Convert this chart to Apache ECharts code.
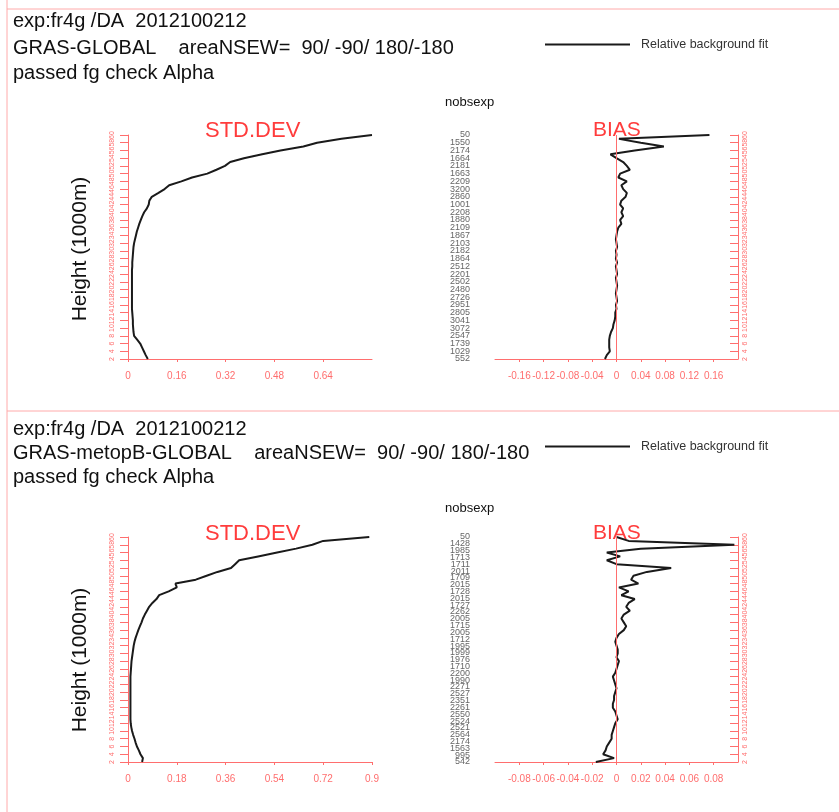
<!DOCTYPE html>
<html>
<head>
<meta charset="utf-8">
<script src="https://cdn.jsdelivr.net/npm/echarts@6/dist/echarts.min.js"></script>
<style>
html,body{margin:0;padding:0;background:#fff;}
#chart{width:839px;height:812px;}
</style>
</head>
<body>
<div id="chart"></div>
<script>
// Heights (1000 m), top to bottom
const heights = [60,59,58,57,56,55,54,53,52,51,50,49,48,47,46,45,44,43,42,41,40,39,38,37,36,35,34,33,32,31,30,29,28,27,26,25,24,23,22,21,20,19,18,17,16,15,14,13,12,11,10,9,8,7,6,5,4,3,2];

// Panel 1: GRAS-GLOBAL
const std1 = [0.80,0.70,0.62,0.575,0.50,0.44,0.38,0.335,0.318,0.29,0.26,0.21,0.175,0.135,0.12,0.10,0.078,0.070,0.068,0.062,0.053,0.047,0.042,0.037,0.033,0.029,0.026,0.023,0.020,0.018,0.017,0.016,0.015,0.014,0.014,0.013,0.013,0.013,0.013,0.013,0.013,0.013,0.013,0.013,0.013,0.013,0.014,0.015,0.016,0.016,0.017,0.018,0.020,0.030,0.040,0.046,0.052,0.058,0.065];
const bias1 = [0.153,0.004,0.040,0.078,0.030,-0.010,0.000,0.011,0.017,0.022,0.006,0.003,0.017,0.008,0.011,0.017,0.015,0.008,0.006,0.011,0.008,0.011,0.006,0.008,0.003,0.001,0.000,-0.001,0.000,0.001,-0.001,0.000,-0.001,0.001,-0.001,0.000,0.001,-0.001,0.000,0.001,0.000,-0.001,0.000,0.001,-0.001,0.000,-0.002,-0.002,-0.003,-0.005,-0.006,-0.009,-0.011,-0.012,-0.012,-0.012,-0.011,-0.016,-0.019];
const nobs1 = ["50","1550","2174","1664","2181","1663","2209","3200","2860","1001","2208","1880","2109","1867","2103","2182","1864","2512","2201","2502","2480","2726","2951","2805","3041","3072","2547","1739","1029","552"];

// Panel 2: GRAS-metopB-GLOBAL
const std2 = [0.89,0.72,0.68,0.62,0.55,0.48,0.41,0.395,0.38,0.33,0.29,0.25,0.175,0.18,0.15,0.115,0.105,0.090,0.078,0.070,0.062,0.055,0.050,0.044,0.038,0.033,0.028,0.024,0.021,0.019,0.017,0.015,0.013,0.012,0.011,0.010,0.009,0.009,0.009,0.009,0.009,0.009,0.009,0.009,0.009,0.009,0.009,0.009,0.010,0.012,0.015,0.019,0.024,0.028,0.033,0.040,0.046,0.055,0.052];
const bias2 = [0.000,0.010,0.097,0.020,-0.008,0.003,-0.008,0.000,0.045,0.025,0.014,0.012,0.018,0.002,0.010,0.004,0.015,0.010,0.008,0.011,0.006,0.004,0.006,0.008,0.006,0.002,0.000,-0.001,0.000,0.001,0.001,0.000,0.002,0.001,0.000,-0.001,-0.003,-0.002,-0.001,0.000,-0.001,-0.002,-0.002,-0.003,-0.003,-0.001,0.000,0.001,-0.001,-0.002,-0.003,-0.004,-0.004,-0.006,-0.008,-0.009,-0.011,-0.002,-0.017];
const nobs2 = ["50","1428","1985","1713","1711","2011","1709","2015","1728","2015","1727","2262","2005","1715","2005","1712","1995","1999","1976","1710","2200","1990","2271","2527","2351","2261","2550","2524","2521","2564","2174","1563","995","542"];

// Axis tick settings
const heightMin = 2, heightMax = 60, heightStep = 2;
const std1Axis = {min: 0, max: 0.8, interval: 0.16};
const std2Axis = {min: 0, max: 0.9, interval: 0.18};
const bias1Axis = {min: -0.2, max: 0.2, interval: 0.04};
const bias2Axis = {min: -0.1, max: 0.1, interval: 0.02};

const RED = '#ff6e6e';
const TXTRED = '#ff3c3c';
const FONT = 'Liberation Sans, Arial, sans-serif';

const pair = (vals) => vals.map((v, i) => [v, heights[i]]);

const grids = [
  {left: 128, top: 135, width: 244, height: 224},
  {left: 495, top: 135, width: 243, height: 224},
  {left: 128, top: 537, width: 244, height: 225},
  {left: 495, top: 537, width: 243, height: 225}
];

function xValAxis(grid, ax, showMax) {
  return {
    type: 'value', gridIndex: grid, min: ax.min, max: ax.max, interval: ax.interval,
    showMaxLabel: showMax, showMinLabel: grid % 2 === 0,
    axisLine: {show: true, lineStyle: {color: RED, width: 1}},
    axisTick: {show: true, length: 3, lineStyle: {color: RED}},
    axisLabel: {color: RED, fontSize: 10, margin: 12, fontFamily: FONT,
      showMaxLabel: showMax, showMinLabel: grid % 2 === 0},
    splitLine: {show: false}
  };
}
function hAxis(grid, pos, inside) {
  return {
    type: 'value', gridIndex: grid, position: pos, min: heightMin, max: heightMax, interval: heightStep,
    axisLine: {show: true, onZero: false, lineStyle: {color: RED, width: 1}},
    axisTick: {show: true, inside: inside, length: 8, lineStyle: {color: RED}},
    axisLabel: {color: RED, fontSize: 7, rotate: 90, margin: inside ? 4 : 12, fontFamily: FONT},
    splitLine: {show: false}
  };
}
function nobsAxis(grid, list) {
  return {
    type: 'category', gridIndex: grid, position: 'left', data: list, inverse: true, boundaryGap: false,
    axisLine: {show: false}, axisTick: {show: false},
    axisLabel: {interval: 0, color: '#666', fontSize: 9, margin: 25, fontFamily: 'Liberation Sans Narrow, ' + FONT}
  };
}

function textEl(x, y, str, size, color) {
  return {type: 'text', left: x, top: y,
    style: {text: str, fontSize: size, fill: color, fontFamily: FONT}};
}

// y positions: [header1, header2, header3, nobsexp, STD.DEV/BIAS]
function panelTexts(ys, sensor) {
  return [
    textEl(13, ys[0], 'exp:fr4g /DA  2012100212', 20, '#111'),
    textEl(13, ys[1], sensor + '    areaNSEW=  90/ -90/ 180/-180', 20, '#111'),
    textEl(13, ys[2], 'passed fg check Alpha', 20, '#111'),
    textEl(445, ys[3], 'nobsexp', 13, '#111'),
    textEl(205, ys[4], 'STD.DEV', 22, TXTRED),
    textEl(593, ys[4], 'BIAS', 21, TXTRED)
  ];
}

const chart = echarts.init(document.getElementById('chart'), null, {renderer: 'canvas'});

const lineStyle = {color: '#1a1a1a', width: 2};
const zeroMark = {silent: true, symbol: 'none', label: {show: false},
  lineStyle: {color: RED, width: 1, type: 'solid'}, data: [{xAxis: 0}]};

const legendBase = {data: ['Relative background fit'], icon: 'rect', itemWidth: 85, itemHeight: 2,
  textStyle: {fontSize: 12.5, color: '#333', fontFamily: FONT, padding: [0, 0, 0, 6]}, selectedMode: false};

chart.setOption({
  animation: false,
  backgroundColor: '#fff',
  grid: grids,
  legend: [
    Object.assign({left: 540, top: 33}, legendBase),
    Object.assign({left: 540, top: 435}, legendBase)
  ],
  xAxis: [
    xValAxis(0, std1Axis, false),
    xValAxis(1, bias1Axis, false),
    xValAxis(2, std2Axis, true),
    xValAxis(3, bias2Axis, false)
  ],
  yAxis: [
    hAxis(0, 'left', false),
    hAxis(1, 'right', true),
    nobsAxis(1, nobs1),
    hAxis(2, 'left', false),
    hAxis(3, 'right', true),
    nobsAxis(3, nobs2)
  ],
  series: [
    {name: 'Relative background fit', type: 'line', xAxisIndex: 0, yAxisIndex: 0, data: pair(std1),
     showSymbol: false, lineStyle: lineStyle, itemStyle: {color: '#1a1a1a'}},
    {name: 'Relative background fit', type: 'line', xAxisIndex: 1, yAxisIndex: 1, data: pair(bias1),
     showSymbol: false, lineStyle: lineStyle, itemStyle: {color: '#1a1a1a'}, markLine: zeroMark},
    {name: 'Relative background fit', type: 'line', xAxisIndex: 2, yAxisIndex: 3, data: pair(std2),
     showSymbol: false, lineStyle: lineStyle, itemStyle: {color: '#1a1a1a'}},
    {name: 'Relative background fit', type: 'line', xAxisIndex: 3, yAxisIndex: 4, data: pair(bias2),
     showSymbol: false, lineStyle: lineStyle, itemStyle: {color: '#1a1a1a'}, markLine: zeroMark}
  ],
  graphic: [
    {type: 'line', shape: {x1: 7, y1: 9, x2: 839, y2: 9}, style: {stroke: '#ffaaaa', lineWidth: 1}},
    {type: 'line', shape: {x1: 7, y1: 0, x2: 7, y2: 812}, style: {stroke: '#ffaaaa', lineWidth: 1}},
    {type: 'line', shape: {x1: 7, y1: 411, x2: 839, y2: 411}, style: {stroke: '#ffaaaa', lineWidth: 1}},
    ...panelTexts([11, 38, 63, 96, 120], 'GRAS-GLOBAL'),
    ...panelTexts([419, 443, 467, 502, 523], 'GRAS-metopB-GLOBAL'),
    {type: 'text', x: 80, y: 249, rotation: Math.PI / 2,
     style: {text: 'Height (1000m)', fontSize: 21, fill: '#111', fontFamily: FONT, align: 'center', verticalAlign: 'middle'}},
    {type: 'text', x: 80, y: 660, rotation: Math.PI / 2,
     style: {text: 'Height (1000m)', fontSize: 21, fill: '#111', fontFamily: FONT, align: 'center', verticalAlign: 'middle'}}
  ]
});
</script>
</body>
</html>
